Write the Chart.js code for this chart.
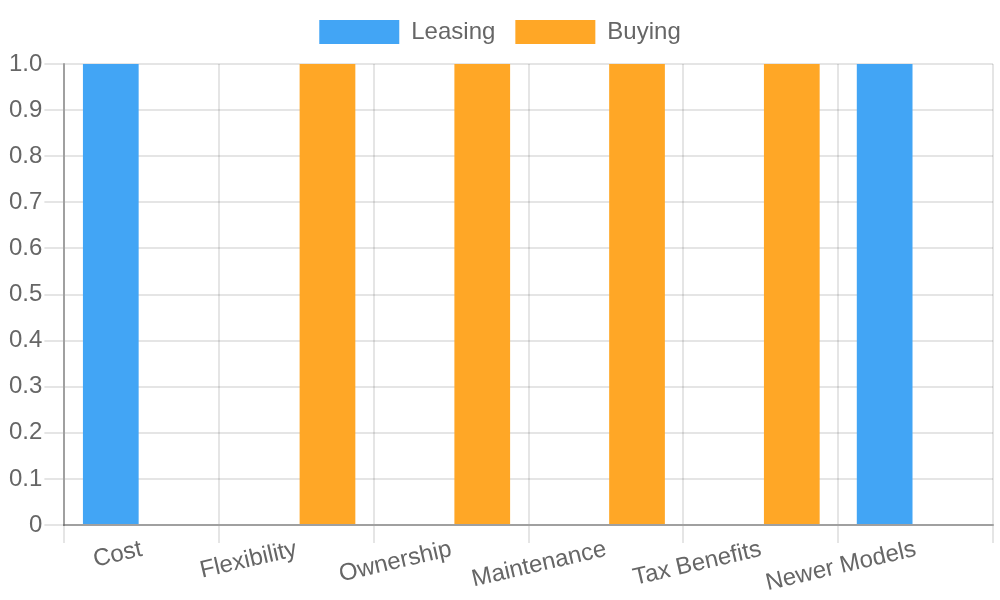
<!DOCTYPE html>
<html>
<head>
<meta charset="utf-8">
<title>Leasing vs Buying</title>
<script src="https://cdn.jsdelivr.net/npm/chart.js@4"></script>
<style>
    html, body { margin: 0; padding: 0; background: #fff; }
    #wrap { width: 1000px; height: 600px; position: relative; }
</style>
</head>
<body>
<div id="wrap"><canvas id="chart"></canvas></div>
<script>
let categories = ["Cost", "Flexibility", "Ownership", "Maintenance", "Tax Benefits", "Newer Models"];
let leasing = [1, 0, 0, 0, 0, 1];
let buying = [0, 1, 1, 1, 1, 0];


// everything at twice the usual size
Chart.defaults.font.size = 24;

var data = {
    labels: categories,
    datasets: [{
        label: "Leasing",
        backgroundColor: "#42A5F5",
        data: leasing,
    }, {
        label: "Buying",
        backgroundColor: "#FFA726",
        data: buying,
    }]
};

// a bit more room under the legend
var legendGap = {
    id: 'legendGap',
    beforeInit(chart) {
        let oldFit = chart.legend.fit;
        chart.legend.fit = function () {
            oldFit.call(this);
            this.height += 10;
        };
    }
};

var options = {
    responsive: true,
    maintainAspectRatio: false,
    devicePixelRatio: 1,
    animation: false,
    layout: {
        padding: { left: 7, right: 7 }
    },
    plugins: {
        legend: {
            labels: {
                boxWidth: 80,
                boxHeight: 24,
                padding: 20
            }
        }
    },
    scales: {
        x: {
            grid: { lineWidth: 2, tickLength: 18 },
            border: { width: 2, color: "rgba(0,0,0,0.3)" },
            ticks: { padding: -8, autoSkipPadding: 6 },
            afterFit: function (scale) {
                scale.height = 75;
            }
        },
        y: {
            beginAtZero: true,
            max: 1,
            grid: { lineWidth: 2, tickLength: 20 },
            border: { width: 2, color: "rgba(0,0,0,0.3)" },
            ticks: { padding: 2 }
        }
    }
};

new Chart('chart', {
    type: 'bar',
    options: options,
    data: data,
    plugins: [legendGap]
});
</script>
</body>
</html>
